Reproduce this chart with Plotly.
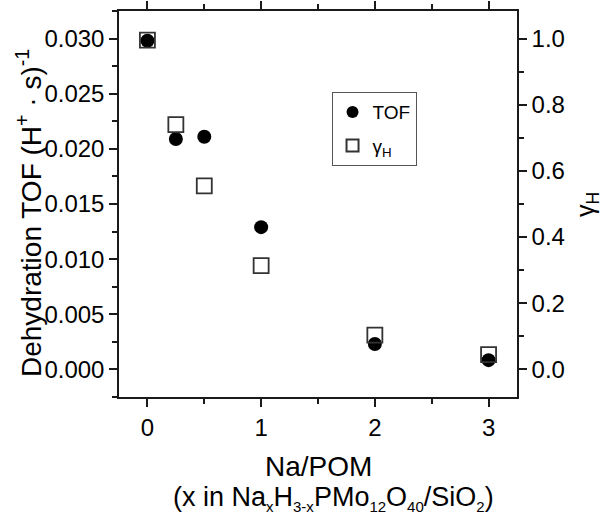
import plotly.graph_objects as go

# Na loading per POM unit
na_per_pom = [0, 0.25, 0.5, 1, 2, 3]
# Dehydration turnover frequency, (H+ · s)^-1
tof = [0.0298, 0.0209, 0.0211, 0.0129, 0.0023, 0.00084]
# Fraction of protons remaining, gamma_H
gamma_h = [0.995, 0.740, 0.555, 0.314, 0.104, 0.045]

FONT = "Liberation Sans, Arial, sans-serif"
INK = "#1a1a1a"
SUB = '<span style="font-size:15px">{}</span>'

fig = go.Figure()

# gamma_H drawn first so the TOF circles sit on top
fig.add_trace(go.Scatter(
    x=na_per_pom, y=gamma_h, mode="markers", name="γ<sub>H</sub>",
    yaxis="y2", legendrank=2, legendgroup="g",
    marker=dict(symbol="square-open", size=15, color="#333333",
                line=dict(width=1.8, color="#333333")),
))
fig.add_trace(go.Scatter(
    x=na_per_pom, y=tof, mode="markers", name="TOF",
    yaxis="y", legendrank=1, legendgroup="t",
    marker=dict(symbol="circle", size=14, color="black"),
))

axis_common = dict(
    showline=True, linecolor=INK, linewidth=1.5,
    ticks="outside", ticklen=8, tickwidth=1.5, tickcolor=INK,
    showgrid=False, zeroline=False, automargin=False,
    tickfont=dict(family=FONT, size=24, color="black"),
)


def title_font(size):
    return dict(family=FONT, size=size, color="black")


x_title_2 = ("(x in Na<sub>" + SUB.format("x") + "</sub>H<sub>" + SUB.format("3-x")
             + "</sub>PMo<sub>" + SUB.format("12") + "</sub>O<sub>" + SUB.format("40")
             + "</sub>/SiO<sub>" + SUB.format("2") + "</sub>)")

fig.update_layout(
    width=605, height=517,
    margin=dict(l=119, r=88, t=11, b=120),
    paper_bgcolor="white", plot_bgcolor="white",
    font=dict(family=FONT, color="black"),
    showlegend=True,
    legend=dict(
        x=0.534, y=0.79, xanchor="left", yanchor="top",
        bgcolor="white", bordercolor="#555555", borderwidth=1,
        font=dict(family=FONT, size=19, color="black"),
        itemsizing="constant", traceorder="grouped", tracegroupgap=6,
        entrywidth=86, entrywidthmode="pixels",
    ),
    xaxis=dict(
        **axis_common,
        range=[-0.25, 3.25], tickvals=[0, 1, 2, 3],
        mirror="ticks",
        minor=dict(dtick=0.5, ticks="outside", ticklen=5, tickwidth=1.5, tickcolor=INK),
    ),
    yaxis=dict(
        **axis_common,
        range=[-0.0025, 0.0325], tickvals=[0, 0.005, 0.01, 0.015, 0.02, 0.025, 0.03],
        tickformat=".3f",
        minor=dict(dtick=0.0025, ticks="outside", ticklen=5, tickwidth=1.5, tickcolor=INK),
    ),
    yaxis2=dict(
        **axis_common,
        overlaying="y", side="right",
        range=[-0.0833, 1.0833], tickvals=[0, 0.2, 0.4, 0.6, 0.8, 1.0],
        tickformat=".1f",
        minor=dict(dtick=0.1, ticks="outside", ticklen=5, tickwidth=1.5, tickcolor=INK),
    ),
    annotations=[
        dict(text="Na/POM", x=0.5, xref="paper", y=466,
             showarrow=False, font=title_font(28), xanchor="center", yanchor="middle"),
        dict(text=x_title_2, x=0.54, xref="paper", y=498,
             showarrow=False, font=title_font(27), xanchor="center", yanchor="middle"),
        dict(text="Dehydration TOF (H<sup>+</sup> · s)<sup>-1</sup>", textangle=-90,
             x=29, y=213, showarrow=False, font=title_font(28),
             xanchor="center", yanchor="middle"),
        dict(text="γ<sub>H</sub>", textangle=-90, x=587, y=205, showarrow=False,
             font=title_font(25), xanchor="center", yanchor="middle"),
    ],
)

# Titles are placed in page pixels: convert to paper fractions
W, H = 605, 517
L, R, T, B = 119, 88, 11, 120
pw, ph = W - L - R, H - T - B
for ann in fig.layout.annotations:
    if ann.textangle == -90:
        ann.x = (ann.x - L) / pw
        ann.xref = "paper"
    ann.y = (H - B - ann.y) / ph
    ann.yref = "paper"

fig.write_html("out.html")
